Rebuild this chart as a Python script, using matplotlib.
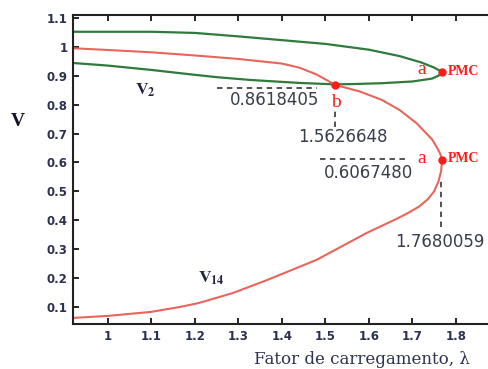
import matplotlib

matplotlib.use("Agg")
import matplotlib.pyplot as plt

plt.rcParams["mathtext.fontset"] = "stix"

# curva V2 (ramo superior ate o PMC e volta pelo ramo inferior)
lam_v2 = [0.92, 1.00, 1.10, 1.20, 1.30, 1.40, 1.50, 1.60, 1.67, 1.72, 1.75,
          1.768, 1.76, 1.745, 1.70, 1.63, 1.56, 1.523, 1.44, 1.33, 1.25, 1.20,
          1.10, 1.00, 0.92]
v_v2 = [1.052, 1.052, 1.052, 1.048, 1.036, 1.023, 1.010, 0.990, 0.968, 0.946,
        0.928, 0.913, 0.900, 0.890, 0.880, 0.874, 0.871, 0.870, 0.875, 0.885,
        0.895, 0.903, 0.920, 0.935, 0.944]

# curva V14
lam_v14 = [0.92, 1.00, 1.10, 1.20, 1.30, 1.40, 1.44, 1.48, 1.523, 1.58, 1.63,
           1.67, 1.71, 1.745, 1.757, 1.764, 1.768, 1.766, 1.760, 1.750, 1.735,
           1.715, 1.69, 1.664, 1.595, 1.48, 1.366, 1.287, 1.21, 1.166, 1.10,
           1.00, 0.92]
v_v14 = [0.995, 0.989, 0.981, 0.970, 0.958, 0.942, 0.928, 0.904, 0.868, 0.845,
         0.816, 0.782, 0.735, 0.680, 0.650, 0.630, 0.607, 0.570, 0.535, 0.500,
         0.472, 0.447, 0.425, 0.405, 0.356, 0.263, 0.193, 0.148, 0.114, 0.100,
         0.083, 0.069, 0.062]

# pontos destacados: PMC de V2, cruzamento b, PMC de V14
pts_lam = [1.768, 1.523, 1.767]
pts_v = [0.913, 0.868, 0.607]

xticks = [1.0, 1.1, 1.2, 1.3, 1.4, 1.5, 1.6, 1.7, 1.8]
xtick_labels = ["1", "1.1", "1.2", "1.3", "1.4", "1.5", "1.6", "1.7", "1.8"]
yticks = [0.1, 0.2, 0.3, 0.4, 0.5, 0.6, 0.7, 0.8, 0.9, 1.0, 1.1]
ytick_labels = ["0.1", "0.2", "0.3", "0.4", "0.5", "0.6", "0.7", "0.8", "0.9", "1", "1.1"]

green = "#2f7a3c"
red_line = "#e8655c"
red = "#ff1a1a"
navy = "#2c3150"
num_color = "#3a3d4a"

fig = plt.figure(figsize=(4.89, 3.69), dpi=100)
ax = fig.add_axes([73 / 489, 45 / 369, 416 / 489, 309 / 369])

ax.plot(lam_v2, v_v2, color=green, lw=1.6)
ax.plot(lam_v14, v_v14, color=red_line, lw=1.5)
ax.plot(pts_lam, pts_v, "o", color=red, ms=5, zorder=5)

ax.set_xlim(0.92, 1.876)
ax.set_ylim(0.041, 1.11)
ax.set_xticks(xticks)
ax.set_xticklabels(xtick_labels)
ax.set_yticks(yticks)
ax.set_yticklabels(ytick_labels)
ax.tick_params(direction="in", length=4, width=1.2, top=True, labelsize=8.5,
               labelcolor=navy, pad=4)
for lbl in ax.get_xticklabels() + ax.get_yticklabels():
    lbl.set_fontweight("bold")
for side in ["left", "bottom", "top"]:
    ax.spines[side].set_linewidth(1.5)
    ax.spines[side].set_color("#222222")
ax.spines["right"].set_visible(False)

# linhas de chamada tracejadas
dash = dict(color="#444444", lw=1.3, ls=(0, (3, 2.5)))
ax.plot([1.251, 1.48], [0.858, 0.858], **dash)
ax.plot([1.523, 1.523], [0.723, 0.782], **dash)
ax.plot([1.487, 1.69], [0.612, 0.612], **dash)
ax.plot([1.766, 1.766], [0.377, 0.546], **dash)

num_font = dict(fontsize=12, color=num_color, family="DejaVu Sans")
ax.text(1.384, 0.816, "0.8618405", ha="center", va="center", **num_font)
ax.text(1.540, 0.688, "1.5626648", ha="center", va="center", **num_font)
ax.text(1.600, 0.564, "0.6067480", ha="center", va="center", **num_font)
ax.text(1.763, 0.325, "1.7680059", ha="center", va="center", **num_font)

letter = dict(fontsize=14, color=red, family="Liberation Serif", ha="center", va="center")
ax.text(1.524, 0.806, "b", **letter)
ax.text(1.722, 0.920, "a", **letter)
ax.text(1.722, 0.612, "a", **letter)

pmc = dict(fontsize=10, color=red, family="Liberation Serif", fontweight="bold",
           ha="left", va="center")
ax.text(1.782, 0.913, "PMC", **pmc)
ax.text(1.782, 0.612, "PMC", **pmc)

ax.text(1.085, 0.85, r"$\mathbf{V}_{\mathbf{2}}$", fontsize=12.5, color="#222244",
        ha="center", va="center")
ax.text(1.239, 0.2, r"$\mathbf{V}_{\mathbf{14}}$", fontsize=12.5, color="#222244",
        ha="center", va="center")

fig.text(18 / 489, 1 - 122 / 369, "V", fontsize=14, fontweight="bold",
         family="Liberation Serif", color="#111122", ha="center", va="center")
fig.text(362 / 489, 1 - 359 / 369, "Fator de carregamento, λ", fontsize=12,
         family="DejaVu Serif", color=navy, ha="center", va="center")

fig.savefig("out.png", dpi=100)
